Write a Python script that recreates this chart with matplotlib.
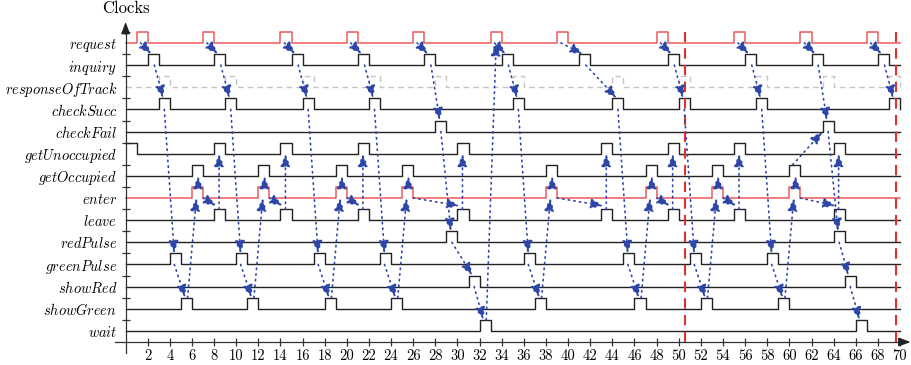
import matplotlib
matplotlib.use('Agg')
import matplotlib.pyplot as plt

plt.rcParams['font.family'] = 'serif'
plt.rcParams['font.serif'] = ['cmr10', 'DejaVu Serif']
plt.rcParams['mathtext.fontset'] = 'cm'
plt.rcParams['axes.unicode_minus'] = False

# signal names, top to bottom
signals = ['request', 'inquiry', 'responseOfTrack', 'checkSucc', 'checkFail',
           'getUnoccupied', 'getOccupied', 'enter', 'leave', 'redPulse',
           'greenPulse', 'showRed', 'showGreen', 'wait']

# pulse start times (each pulse lasts one clock)
request = [1, 7, 14, 20, 26, 33, 39, 48, 55, 61, 67]
inquiry = [2, 8, 15, 21, 27, 34, 41, 49, 56, 62, 68]
responseOfTrack = [3, 9, 16, 22, 28, 35, 44, 50, 57, 63, 69]
checkSucc = [3, 9, 16, 22, 35, 44, 50, 57, 69]
checkFail = [28, 63]
getUnoccupied = [0, 8, 14, 21, 30, 43, 49, 55, 64]
getOccupied = [6, 12, 19, 25, 38, 47, 53, 60]
enter = [6, 12, 19, 25, 38, 47, 53, 60]
leave = [8, 14, 21, 30, 43, 49, 55, 64]
redPulse = [29, 64]
greenPulse = [4, 10, 17, 23, 36, 45, 51, 58]
showRed = [31, 65]
showGreen = [5, 11, 18, 24, 37, 46, 52, 59]
wait = [32, 66]

pulses = {
    'request': request, 'inquiry': inquiry, 'responseOfTrack': responseOfTrack,
    'checkSucc': checkSucc, 'checkFail': checkFail, 'getUnoccupied': getUnoccupied,
    'getOccupied': getOccupied, 'enter': enter, 'leave': leave,
    'redPulse': redPulse, 'greenPulse': greenPulse, 'showRed': showRed,
    'showGreen': showGreen, 'wait': wait,
}

# cycles: (request, inquiry, checkSucc, greenPulse, showGreen, enter, leave)
succ_cycles = [(1, 2, 3, 4, 5, 6, 8), (7, 8, 9, 10, 11, 12, 14),
               (14, 15, 16, 17, 18, 19, 21), (20, 21, 22, 23, 24, 25, 30),
               (33, 34, 35, 36, 37, 38, 43), (39, 41, 44, 45, 46, 47, 49),
               (48, 49, 50, 51, 52, 53, 55), (55, 56, 57, 58, 59, 60, 64)]
# (request, inquiry, checkFail, redPulse, showRed, wait)
fail_cycles = [(26, 27, 28, 29, 31, 32), (61, 62, 63, 64, 65, 66)]

extra_links = [('wait', 32, 'request', 33), ('getOccupied', 60, 'checkFail', 63),
               ('request', 67, 'inquiry', 68), ('inquiry', 68, 'checkSucc', 69)]

red_marks = [50.55, 69.6]
t_end = 70

links = []
for r, q, c, g, s, e, l in succ_cycles:
    links += [('request', r, 'inquiry', q), ('inquiry', q, 'checkSucc', c),
              ('checkSucc', c, 'greenPulse', g), ('greenPulse', g, 'showGreen', s),
              ('showGreen', s, 'enter', e), ('enter', e, 'getOccupied', e),
              ('enter', e, 'leave', l), ('leave', l, 'getUnoccupied', l)]
for r, q, f, p, sr, w in fail_cycles:
    links += [('request', r, 'inquiry', q), ('inquiry', q, 'checkFail', f),
              ('checkFail', f, 'redPulse', p), ('redPulse', p, 'showRed', sr),
              ('showRed', sr, 'wait', w)]
links += extra_links

# where an arrow leaves / lands inside a pulse: (dx0, level0, dx1, level1)
anchors = {
    ('request', 'inquiry'): (0.35, 0, 0.35, 0.5),
    ('inquiry', 'checkSucc'): (0.6, 0, 0.4, 0.5),
    ('inquiry', 'checkFail'): (0.6, 0, 0.4, 0.5),
    ('checkSucc', 'greenPulse'): (0.5, 0, 0.4, 0.5),
    ('greenPulse', 'showGreen'): (0.4, 0, 0.4, 0.5),
    ('showGreen', 'enter'): (0.6, 0.5, 0.4, 0),
    ('enter', 'getOccupied'): (0.55, 0.5, 0.55, 0),
    ('enter', 'leave'): (1.0, 0, 0.2, 0.65),
    ('leave', 'getUnoccupied'): (0.45, 0.5, 0.45, 0),
    ('checkFail', 'redPulse'): (0.5, 0, 0.4, 0.5),
    ('redPulse', 'showRed'): (0.5, 0, 0.35, 0.5),
    ('showRed', 'wait'): (0.5, 0, 0.35, 0.5),
    ('wait', 'request'): (0.6, 0.5, 0.5, 0),
    ('getOccupied', 'checkFail'): (0.3, 0.5, 0.0, 0),
}

base = {name: len(signals) - 0.5 - i for i, name in enumerate(signals)}

BLUE = '#2d46a8'
RED = '#ec5a5a'
BLACK = '#222222'
GRAY = '#c4c4c4'


def wave(starts):
    xs, ys = [0], [0]
    for t in starts:
        xs += [t, t, t + 1, t + 1]
        ys += [0, 0.5, 0.5, 0]
    xs.append(t_end)
    ys.append(0)
    if starts and starts[0] == 0:
        xs, ys = xs[2:], ys[2:]
    return xs, ys


W, H = 911, 365
x0px, sx = 125.6, 11.063
y0px, sy = 342.0, 22.15
fig = plt.figure(figsize=(W / 100, H / 100), dpi=100)
ax = fig.add_axes([(x0px - sx) / W, (H - (y0px + 0.5 * sy)) / H,
                   72 * sx / W, 15.1 * sy / H])
ax.set_xlim(-1, 71)
ax.set_ylim(-0.5, 14.6)

for name in signals:
    xs, ys = wave(pulses[name])
    ys = [base[name] + v for v in ys]
    if name == 'responseOfTrack':
        ax.plot(xs, ys, color=GRAY, lw=1.0, dashes=(4, 3), zorder=2)
    elif name in ('request', 'enter'):
        ax.plot(xs, ys, color=RED, lw=1.1, zorder=2)
    else:
        ax.plot(xs, ys, color=BLACK, lw=1.0, zorder=2)

ax.vlines(red_marks, 0, 14.0, colors='#e03030', linestyles=(0, (5, 3)), lw=1.5, zorder=3)

for src, ts, dst, td in links:
    dx0, l0, dx1, l1 = anchors[(src, dst)]
    ax.annotate('', xy=(td + dx1, base[dst] + l1), xytext=(ts + dx0, base[src] + l0),
                arrowprops=dict(arrowstyle='-|>,head_length=0.75,head_width=0.3',
                                color=BLUE, lw=1.2, linestyle=(0, (0.8, 2.6)),
                                capstyle='round', shrinkA=0, shrinkB=0,
                                mutation_scale=10),
                zorder=4)

# axes
for side in ('top', 'right'):
    ax.spines[side].set_visible(False)
ax.spines['bottom'].set_position(('data', 0))
ax.spines['left'].set_position(('data', 0))
ax.spines['bottom'].set_bounds(-1, 70.5)
ax.spines['left'].set_bounds(-0.5, 14.1)
for side in ('bottom', 'left'):
    ax.spines[side].set_color('#333333')
    ax.spines[side].set_linewidth(0.9)
ax.annotate('', xy=(70.95, 0), xytext=(70.0, 0),
            arrowprops=dict(arrowstyle='-|>,head_length=0.8,head_width=0.3', color='#222222',
                            lw=0.9, shrinkA=0, shrinkB=0, mutation_scale=9),
            annotation_clip=False)
ax.annotate('', xy=(0, 14.45), xytext=(0, 13.9),
            arrowprops=dict(arrowstyle='-|>,head_length=0.8,head_width=0.3', color='#222222',
                            lw=0.9, shrinkA=0, shrinkB=0, mutation_scale=9),
            annotation_clip=False)

ax.set_xticks(range(2, 71, 2))
ax.set_xticklabels([str(v) for v in range(2, 71, 2)], fontsize=10.5)
ax.tick_params(axis='x', direction='inout', length=6, width=0.9, color='#333333', pad=2)

ax.set_yticks([base[n] for n in signals])
ax.set_yticklabels(['$' + n + '$' for n in signals], fontsize=10.4)
ax.set_yticks([base[n] + 0.5 for n in signals], minor=True)
ax.tick_params(axis='y', which='major', length=0, pad=6)
ax.tick_params(axis='y', which='minor', direction='inout', length=6, width=0.9, color='#333333')

ax.text(0, 15.05, 'Clocks', ha='center', va='center', fontsize=12, clip_on=False)

fig.savefig('out.png', dpi=100)
